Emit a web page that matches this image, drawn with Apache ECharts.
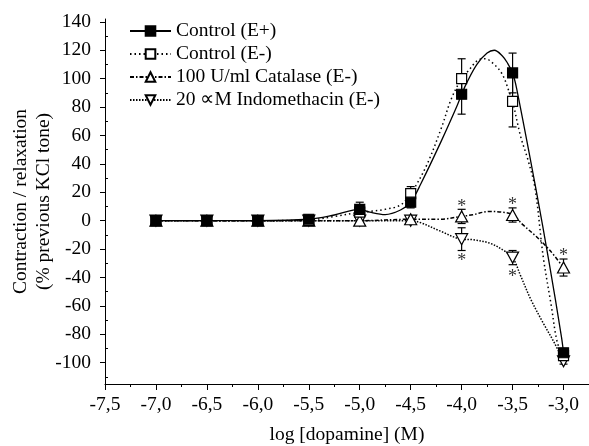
<!DOCTYPE html>
<html><head><meta charset="utf-8">
<script src="https://cdn.jsdelivr.net/npm/echarts@6/dist/echarts.min.js"></script>
<style>html,body{margin:0;padding:0;background:#fff}#c{width:589px;height:446px}</style>
</head><body><div id="c"></div>
<script>
// ---- data ----
const doses = [-7.0, -6.5, -6.0, -5.5, -5.0, -4.5, -4.0, -3.5, -3.0];

const ctrlEpMean = [0, 0, 0, 1, 8, 13, 89, 104, -93];
const ctrlEpErr  = [0, 0, 0, 2, 5, 4, 14, 14, 3];
const ctrlEmMean = [0, 0, 0, 0, 6, 19, 100, 84, -95];
const ctrlEmErr  = [0, 0, 0, 0, 0, 5, 14, 18, 2];
const catMean    = [0, 0, 0, 0, 0, 1, 3, 4, -33];
const catErr     = [0, 0, 0, 0, 1, 2, 5, 5, 6];
const indoMean   = [0, 0, 0, 0, 0, 0, -13, -26, -99];
const indoErr    = [0, 0, 0, 0, 0, 1, 8, 5, 2];

// fitted curves
const ctrlEpCurveX = [-7, -6.5, -6, -5.5, -5.25, -5, -4.9, -4.75, -4.6, -4.5, -4.4, -4.2, -4.05, -4, -3.95, -3.85, -3.75, -3.68, -3.6, -3.55, -3.5, -3.46, -3.27, -3.14, -3.02, -3];
const ctrlEpCurveY = [0, 0, 0, 1, 4, 8, 6, 4.3, 7.5, 13, 26, 56, 80, 89, 97, 110, 118, 120, 116, 111, 104, 93, 22, -30, -82, -93];
const ctrlEmCurveX = [-7, -6.5, -6, -5.5, -5.25, -5, -4.9, -4.75, -4.6, -4.5, -4.35, -4.2, -4.1, -4, -3.94, -3.84, -3.77, -3.68, -3.6, -3.53, -3.5, -3.42, -3.35, -3.28, -3.2, -3.12, -3.06, -3];
const ctrlEmCurveY = [0, 0, 0, 0.5, 3, 6, 6.5, 8, 11, 19, 38, 65, 86, 100, 105, 113, 114, 110, 103, 90, 84, 59, 43, 23, -25, -60, -86, -95];
const catCurveX = [-7, -6.5, -6, -5.5, -5, -4.5, -4.22, -4, -3.89, -3.73, -3.6, -3.5, -3.4, -3.27, -3.14, -3];
const catCurveY = [0, 0, 0, 0, 0, 1, 1, 3, 4.2, 6.5, 6, 4.2, -2.8, -11, -20.4, -33];
const indoCurveX = [-7, -6.5, -6, -5.5, -5, -4.5, -4.4, -4.22, -4, -3.89, -3.73, -3.6, -3.5, -3.42, -3.32, -3.2, -3.09, -3];
const indoCurveY = [0, 0, 0, 0, 0, 0, -1.5, -7, -13, -13.4, -15.7, -20.4, -26, -39, -55.6, -72, -86, -99];

// significance asterisks
const astX = [-4.0, -3.5, -3.0, -4.0, -3.5];
const astY = [12, 14, -22.5, -26, -37];

// axis ticks
const xTicks = [-7.5, -7.0, -6.5, -6.0, -5.5, -5.0, -4.5, -4.0, -3.5, -3.0];
const xMinorTicks = [-7.25, -6.75, -6.25, -5.75, -5.25, -4.75, -4.25, -3.75, -3.25, -2.75];
const yTicks = [-100, -80, -60, -40, -20, 0, 20, 40, 60, 80, 100, 120, 140];
const yMinorTicks = [-110, -90, -70, -50, -30, -10, 10, 30, 50, 70, 90, 110, 130];

const names = ['Control (E+)', 'Control (E-)', '100 U/ml Catalase (E-)', '20 \u221dM Indomethacin (E-)'];

// ---- chart ----
const FONT = 'Liberation Serif';
const FS = 19.5;
const zip = (a, b) => a.map((v, i) => [v, b[i]]);

function curve(name, xs, ys, dash, symbol, rot, fill) {
  return {
    name, type: 'line', data: zip(xs, ys), smooth: 0.35, showSymbol: false,
    symbol, symbolRotate: rot, symbolSize: 10, silent: true, z: 2,
    itemStyle: { color: fill, borderColor: '#000', borderWidth: 1 },
    lineStyle: { color: '#000', width: dash === 'solid' ? 1.3 : 1.5, type: dash },
    emphasis: { disabled: true }
  };
}
function errBars(means, errs) {
  return {
    type: 'custom', silent: true, z: 3,
    data: doses.map((d, i) => [d, means[i], errs[i]]).filter(r => r[2] > 0),
    renderItem(params, api) {
      const x = api.value(0), m = api.value(1), e = api.value(2);
      const hi = api.coord([x, m + e]), lo = api.coord([x, m - e]);
      const w = 4, st = { stroke: '#000', lineWidth: 1.2 };
      return { type: 'group', children: [
        { type: 'line', shape: { x1: hi[0], y1: hi[1], x2: lo[0], y2: lo[1] }, style: st },
        { type: 'line', shape: { x1: hi[0] - w, y1: hi[1], x2: hi[0] + w, y2: hi[1] }, style: st },
        { type: 'line', shape: { x1: lo[0] - w, y1: lo[1], x2: lo[0] + w, y2: lo[1] }, style: st }
      ]};
    }
  };
}
function markers(name, means, symbol, size, rot, fill) {
  return {
    name, type: 'scatter', data: zip(doses, means), symbol, symbolSize: size, symbolRotate: rot,
    silent: true, z: 5,
    itemStyle: { color: fill, borderColor: '#000', borderWidth: 1.2, opacity: 1 }
  };
}

const chart = echarts.init(document.getElementById('c'), null, { renderer: 'canvas' });
const axisTxt = { fontFamily: FONT, fontSize: FS, color: '#000' };
chart.setOption({
  animation: false,
  backgroundColor: '#fff',
  grid: { left: 105, right: 0, top: 19, bottom: 62, containLabel: false, outerBoundsMode: 'none' },
  legend: {
    data: names, orient: 'vertical', left: 124, top: 16, padding: 5,
    itemWidth: 41, itemHeight: 12, itemGap: 3, selectedMode: false,
    textStyle: { fontFamily: FONT, fontSize: FS, color: '#000', lineHeight: 19 }
  },
  xAxis: [
    {
      type: 'value', min: -7.5, max: -2.75, position: 'bottom',
      axisLine: { show: true, onZero: false, lineStyle: { color: '#000', width: 1 } },
      axisTick: { show: true, customValues: xTicks, length: 6, lineStyle: { color: '#000' } },
      axisLabel: { customValues: xTicks, formatter: v => Number(v).toFixed(1).replace('.', ','), margin: 11, ...axisTxt },
      splitLine: { show: false },
      name: 'log [dopamine] (M)', nameLocation: 'middle', nameGap: 41, nameMoveOverlap: false, nameTextStyle: axisTxt
    },
    {
      type: 'value', min: -7.5, max: -2.75, position: 'bottom', offset: 0,
      axisLine: { show: false, onZero: false },
      axisTick: { show: true, customValues: xMinorTicks, length: 3, lineStyle: { color: '#000' } },
      axisLabel: { show: false }, splitLine: { show: false }
    }
  ],
  yAxis: [
    {
      type: 'value', min: -115, max: 142, position: 'left',
      axisLine: { show: true, onZero: false, lineStyle: { color: '#000', width: 1 } },
      axisTick: { show: true, customValues: yTicks, length: 5, lineStyle: { color: '#000' } },
      axisLabel: { customValues: yTicks, margin: 14, ...axisTxt },
      splitLine: { show: false },
      name: 'Contraction / relaxation\n(% previous KCl tone)', nameLocation: 'middle', nameRotate: 90, nameGap: 50,
      nameMoveOverlap: false,
      nameTextStyle: { ...axisTxt, lineHeight: 23 }
    },
    {
      type: 'value', min: -115, max: 142, position: 'left', offset: 0,
      axisLine: { show: false, onZero: false },
      axisTick: { show: true, inside: true, customValues: yMinorTicks, length: 3, lineStyle: { color: '#000' } },
      axisLabel: { show: false }, splitLine: { show: false }
    }
  ],
  series: [
    curve(names[0], ctrlEpCurveX, ctrlEpCurveY, 'solid', 'rect', 0, '#000'),
    curve(names[1], ctrlEmCurveX, ctrlEmCurveY, [1.5, 3], 'rect', 0, '#fff'),
    curve(names[2], catCurveX, catCurveY, [4, 2, 1.5, 2], 'triangle', 0, '#fff'),
    curve(names[3], indoCurveX, indoCurveY, [1.5, 1.5], 'triangle', 180, '#fff'),
    errBars(ctrlEpMean, ctrlEpErr),
    errBars(ctrlEmMean, ctrlEmErr),
    errBars(catMean, catErr),
    errBars(indoMean, indoErr),
    markers('pts-indo', indoMean, 'triangle', [12, 11], 180, '#fff'),
    markers('pts-cat', catMean, 'triangle', [12, 11], 0, '#fff'),
    markers('pts-em', ctrlEmMean, 'rect', 10, 0, '#fff'),
    markers('pts-ep', ctrlEpMean, 'rect', 10, 0, '#000'),
    {
      type: 'custom', silent: true, z: 6,
      data: zip(astX, astY),
      renderItem(params, api) {
        const p = api.coord([api.value(0), api.value(1)]);
        return { type: 'text', x: p[0], y: p[1] + 4,
          style: { text: '*', fontFamily: FONT, fontSize: 18, fill: '#333', align: 'center', verticalAlign: 'middle' } };
      }
    }
  ]
});
</script></body></html>
